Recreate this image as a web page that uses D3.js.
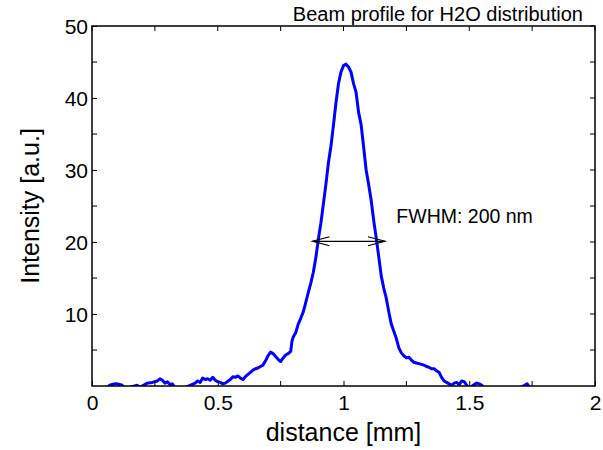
<!DOCTYPE html>
<html><head><meta charset="utf-8">
<script src="https://cdn.jsdelivr.net/npm/d3@7"></script>
<style>body{margin:0;background:#fff}svg{display:block}text{font-family:"Liberation Sans",Arial,sans-serif;fill:#000}</style>
</head><body><svg id="c" width="603" height="450"></svg>
<script>
const distance = [0.06,0.07,0.08,0.09,0.10,0.11,0.12,0.13,0.15,0.18,0.19,0.21,0.22,0.24,0.26,0.27,0.28,0.29,0.30,0.31,0.32,0.33,0.36,0.39,0.41,0.42,0.43,0.44,0.45,0.46,0.47,0.48,0.49,0.50,0.51,0.52,0.53,0.55,0.56,0.57,0.58,0.59,0.60,0.61,0.62,0.63,0.64,0.65,0.66,0.67,0.68,0.69,0.70,0.71,0.72,0.73,0.74,0.75,0.76,0.77,0.78,0.79,0.795,0.80,0.81,0.82,0.83,0.84,0.85,0.86,0.87,0.88,0.89,0.90,0.91,0.92,0.93,0.94,0.95,0.96,0.97,0.98,0.99,1.00,1.01,1.02,1.03,1.04,1.05,1.06,1.07,1.08,1.09,1.10,1.11,1.12,1.13,1.14,1.15,1.16,1.17,1.18,1.19,1.20,1.21,1.22,1.23,1.24,1.25,1.26,1.27,1.28,1.29,1.30,1.31,1.32,1.33,1.34,1.35,1.36,1.37,1.38,1.39,1.40,1.41,1.42,1.43,1.44,1.45,1.46,1.47,1.48,1.49,1.50,1.52,1.53,1.54,1.55,1.56,1.60,1.65,1.70,1.72,1.73,1.74,1.78];
const intensity = [-0.3,0.1,0.2,0.3,0.3,0.2,0.1,-0.3,-0.2,0.1,-0.2,0.2,0.4,0.5,0.7,1.0,0.8,0.4,0.6,0.2,0.3,-0.3,-0.4,0.1,0.4,0.7,0.5,1.1,0.9,1.0,0.8,1.2,0.8,0.6,0.5,0.3,0.4,0.9,1.3,1.2,1.4,1.1,0.9,1.3,1.6,1.9,2.2,2.4,2.5,2.7,2.9,3.5,4.2,4.7,4.5,4.1,3.7,3.4,3.9,4.3,4.5,4.8,6.2,6.8,7.4,8.6,9.4,10.3,11.6,13.0,14.3,15.8,17.8,20.4,22.6,25.3,28.0,31.0,33.3,36.2,39.3,42.0,43.6,44.5,44.7,44.3,43.6,42.0,40.8,38.0,36.3,33.2,30.0,28.0,25.8,23.0,20.6,18.0,15.3,13.6,12.2,10.3,8.6,7.6,6.6,5.3,4.6,4.2,3.9,4.0,3.6,3.3,3.2,3.1,3.0,2.9,2.7,2.6,2.4,2.4,2.1,1.9,1.2,0.7,0.5,0.3,0.1,0.4,0.5,0.2,0.7,0.6,0.1,-0.3,0.2,0.4,0.3,0.1,-0.3,-0.5,-0.4,-0.3,0.1,0.3,-0.2,-0.4];
const xTicks = [0,0.5,1,1.5,2];
const xTickLabels = ["0","0.5","1","1.5","2"];
const yTicks = [10,20,30,40,50];
const xMinor = [0.25,0.75,1.25,1.75];
const yMinor = [5,15,25,35,45];
const fwhm = {x1:0.877, x2:1.165, y:20.1, label:"FWHM: 200 nm", lx:1.21, ly:22.6};
const title = "Beam profile for H2O distribution";

const L=92,R=595,T=26,B=386;
const svg=d3.select("#c");
const x=d3.scaleLinear().domain([0,2]).range([L,R]);
const y=d3.scaleLinear().domain([0,50]).range([B,T]);

svg.append("defs").append("clipPath").attr("id","clip").append("rect")
  .attr("x",L).attr("y",T).attr("width",R-L).attr("height",B-T);

const pts=distance.map((d,i)=>[d,intensity[i]]);
svg.append("path").datum(pts).attr("clip-path","url(#clip)")
  .attr("fill","none").attr("stroke","#0000ff").attr("stroke-width",3).attr("stroke-linejoin","round")
  .attr("d",d3.line().x(d=>x(d[0])).y(d=>y(d[1])));

// axes
const tl=5;
const g=svg.append("g");
const ax=d3.axisBottom(x).tickValues(xTicks).tickFormat((d,i)=>xTickLabels[i]).tickSizeInner(-tl).tickSizeOuter(0).tickPadding(9);
const gx=g.append("g").attr("transform",`translate(0,${B})`).call(ax);
const ay=d3.axisLeft(y).tickValues(yTicks).tickSizeInner(-tl).tickSizeOuter(0).tickPadding(4);
const gy=g.append("g").attr("transform",`translate(${L},0)`).call(ay);
[gx,gy].forEach(a=>{a.selectAll("text").style("font-size","21px").attr("fill","#000");a.select(".domain").remove();a.selectAll("line").attr("stroke","#000");});
gy.selectAll("text").attr("dy","0.36em");
// top/right ticks
const tk=svg.append("g").attr("stroke","#000").attr("stroke-width",1);
xTicks.concat(xMinor).forEach(v=>{
  tk.append("line").attr("x1",x(v)).attr("x2",x(v)).attr("y1",T).attr("y2",T+tl);
});
xMinor.forEach(v=>tk.append("line").attr("x1",x(v)).attr("x2",x(v)).attr("y1",B).attr("y2",B-tl));
yTicks.concat(yMinor).forEach(v=>{
  tk.append("line").attr("x1",R).attr("x2",R-tl).attr("y1",y(v)).attr("y2",y(v));
});
yMinor.forEach(v=>tk.append("line").attr("x1",L).attr("x2",L+tl).attr("y1",y(v)).attr("y2",y(v)));
svg.append("rect").attr("x",L).attr("y",T).attr("width",R-L).attr("height",B-T)
  .attr("fill","none").attr("stroke","#000").attr("stroke-width",1.5);

// labels
svg.append("text").attr("x",(L+R)/2).attr("y",441).attr("text-anchor","middle").style("font-size","25px").text("distance [mm]");
svg.append("text").attr("transform",`translate(39,${(T+B)/2}) rotate(-90)`).attr("text-anchor","middle").style("font-size","25px").text("Intensity [a.u.]");
svg.append("text").attr("x",583).attr("y",21).attr("text-anchor","end").style("font-size","20px").text(title);

// FWHM arrow
const ag=svg.append("g").attr("stroke","#000").attr("stroke-width",1.2).attr("fill","none");
const ax1=x(fwhm.x1), ax2=x(fwhm.x2), ayv=y(fwhm.y);
ag.append("line").attr("x1",ax1).attr("x2",ax2).attr("y1",ayv).attr("y2",ayv);
ag.append("path").attr("d",`M${ax1+17},${ayv-4.5}L${ax1},${ayv}L${ax1+17},${ayv+4.5}`);
ag.append("path").attr("d",`M${ax2-17},${ayv-4.5}L${ax2},${ayv}L${ax2-17},${ayv+4.5}`);
svg.append("text").attr("x",x(fwhm.lx)).attr("y",y(fwhm.ly)).style("font-size","19.5px").text(fwhm.label);
</script></body></html>
